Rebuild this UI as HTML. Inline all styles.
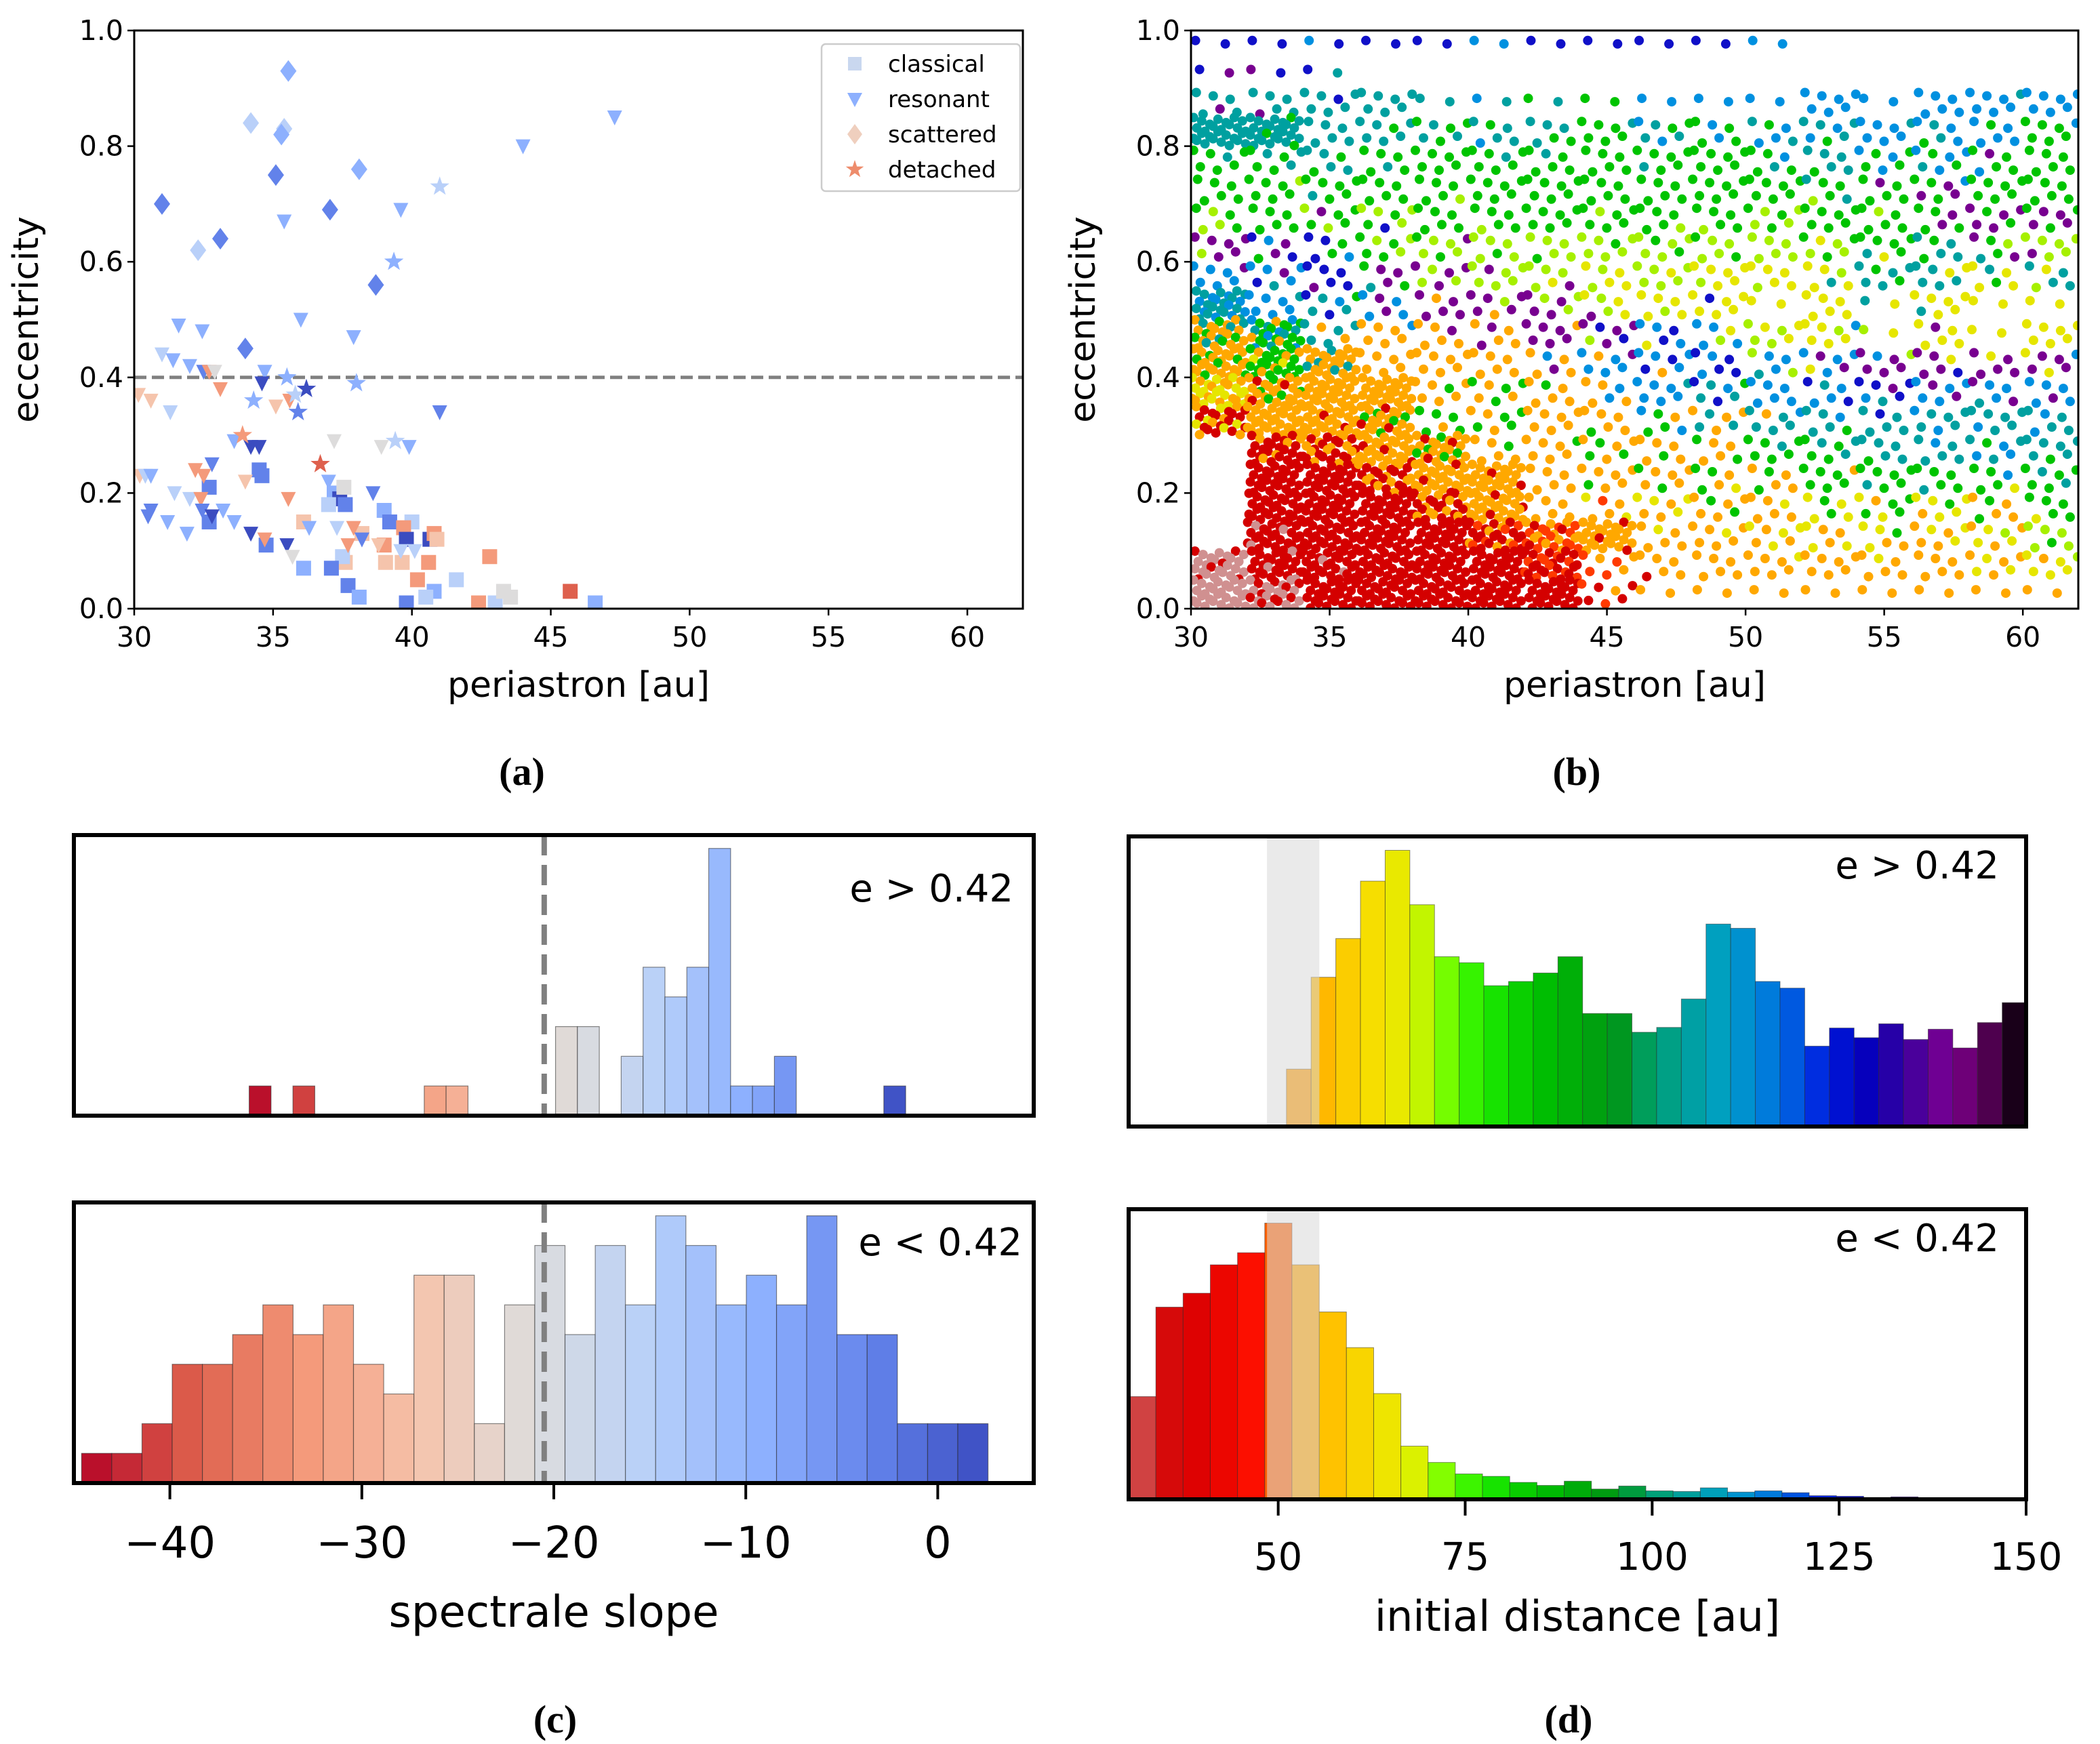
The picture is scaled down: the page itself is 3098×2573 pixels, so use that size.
<!DOCTYPE html>
<html><head><meta charset="utf-8"><style>
html,body{margin:0;padding:0;background:#fff;}
svg{display:block;font-family:"DejaVu Sans","Liberation Sans",sans-serif;}
</style></head>
<body>
<svg id="fig" xmlns="http://www.w3.org/2000/svg" width="3098" height="2573" viewBox="0 0 3098 2573">
<defs>
<clipPath id="clipA"><rect x="198" y="45" width="1311" height="853"/></clipPath>
<clipPath id="clipB"><rect x="1757" y="45" width="1309" height="853"/></clipPath>
</defs>
<rect x="0" y="0" width="3098" height="2573" fill="#fff"/>
<g id="gA"></g>
<g id="gB"></g>
<g id="gC"></g>
<g id="gD"></g>
<text x="770" y="1158" text-anchor="middle" font-family="Liberation Serif,serif" font-weight="bold" font-size="58">(a)</text>
<text x="2326" y="1158" text-anchor="middle" font-family="Liberation Serif,serif" font-weight="bold" font-size="58">(b)</text>
<text x="819" y="2556" text-anchor="middle" font-family="Liberation Serif,serif" font-weight="bold" font-size="58">(c)</text>
<text x="2314" y="2556" text-anchor="middle" font-family="Liberation Serif,serif" font-weight="bold" font-size="58">(d)</text>
</svg>
<script>
// ---------- DATA ----------
const classicalPts=[[32.7,0.21,'b'],[34.5,0.24,'b'],[34.6,0.23,'b'],[37.2,0.20,'l'],[37.4,0.19,'d'],[37.6,0.18,'b'],[37.0,0.18,'p'],[37.55,0.21,'g'],[32.7,0.15,'b'],[36.1,0.15,'s'],[39.0,0.17,'l'],[39.2,0.15,'b'],[40.0,0.15,'p'],[39.7,0.14,'m'],[39.8,0.12,'d'],[40.65,0.12,'d'],[40.8,0.13,'m'],[40.9,0.12,'s'],[38.2,0.13,'s'],[39.0,0.11,'m'],[34.75,0.11,'b'],[39.05,0.08,'s'],[39.65,0.08,'s'],[40.6,0.08,'m'],[37.6,0.08,'s'],[37.5,0.09,'p'],[36.1,0.07,'l'],[37.1,0.07,'b'],[42.8,0.09,'m'],[40.2,0.05,'m'],[41.6,0.05,'p'],[37.7,0.04,'b'],[38.1,0.02,'l'],[40.8,0.03,'l'],[40.5,0.02,'p'],[39.8,0.01,'b'],[42.4,0.01,'m'],[43.0,0.01,'p'],[43.3,0.03,'g'],[43.55,0.02,'g'],[45.7,0.03,'r'],[46.6,0.01,'l']];
const resonantPts=[[47.3,0.85,'l'],[44.0,0.80,'l'],[39.6,0.69,'l'],[35.4,0.67,'l'],[36.0,0.50,'l'],[37.9,0.47,'l'],[31.6,0.49,'l'],[32.45,0.48,'l'],[31.0,0.44,'p'],[31.4,0.43,'l'],[32.0,0.42,'l'],[32.5,0.41,'b'],[32.7,0.41,'m'],[32.9,0.41,'g'],[34.7,0.41,'l'],[34.6,0.39,'d'],[33.1,0.38,'m'],[41.0,0.34,'b'],[30.15,0.37,'s'],[30.6,0.36,'s'],[31.3,0.34,'p'],[35.1,0.35,'s'],[35.6,0.36,'m'],[37.2,0.29,'g'],[38.9,0.28,'g'],[39.9,0.28,'l'],[33.6,0.29,'l'],[34.2,0.28,'d'],[34.5,0.28,'d'],[32.8,0.25,'b'],[32.2,0.24,'m'],[32.5,0.23,'m'],[30.2,0.23,'s'],[30.4,0.23,'p'],[30.6,0.23,'l'],[34.0,0.22,'s'],[37.0,0.22,'l'],[38.6,0.20,'b'],[31.45,0.20,'p'],[32.0,0.19,'p'],[32.4,0.19,'m'],[35.55,0.19,'m'],[30.6,0.17,'b'],[32.45,0.17,'b'],[33.2,0.17,'l'],[30.5,0.16,'b'],[32.8,0.16,'d'],[31.2,0.15,'l'],[33.6,0.15,'l'],[36.3,0.14,'l'],[37.3,0.14,'p'],[37.9,0.14,'m'],[31.9,0.13,'l'],[34.2,0.13,'d'],[38.2,0.12,'b'],[34.7,0.12,'m'],[35.5,0.11,'d'],[37.7,0.11,'m'],[38.8,0.11,'s'],[39.6,0.10,'p'],[40.1,0.10,'p'],[35.7,0.09,'g']];
const scatteredPts=[[35.55,0.93,'l'],[34.2,0.84,'p'],[35.4,0.83,'p'],[35.3,0.82,'l'],[35.1,0.75,'b'],[38.1,0.76,'l'],[31.0,0.70,'b'],[37.05,0.69,'b'],[32.3,0.62,'p'],[33.1,0.64,'b'],[38.7,0.56,'b'],[34.0,0.45,'b']];
const detachedPts=[[41.0,0.73,'p'],[39.35,0.60,'l'],[35.5,0.40,'l'],[34.3,0.36,'l'],[35.8,0.37,'p'],[36.2,0.38,'d'],[35.9,0.34,'b'],[38.0,0.39,'l'],[39.4,0.29,'p'],[33.9,0.30,'m'],[36.7,0.25,'r']];
const xTicksAB=[30,35,40,45,50,55,60];
const yTicksAB=[0.0,0.2,0.4,0.6,0.8,1.0];
const threshold=0.4;
const bColors=["VVBVVBVVVVB.....","PPV.............","TTTTTBTGBBBBBBBB","TTTTGTTGTGBTBTBG","GGTGGGGGGGGTGBGG","GGGGGGGGGGGGGPGG","LGGLGGGGGGLGGGPP","PPVGLLLLLLLLGTGL","BBVPPLLYLYYYTTYT","TBTBPPPLYYYYYYYY","OGTOOOPPVBLYLYYY","OGOOOOOBBVBBPPPP","YOOOOGOOBTBBVBBB","ROOOGGOOGOTTTTTT",".RROOOOGOOGGTTBT",".RRROOOOOGOGGGGG",".RRRROOOYOOYGYOG",".RRRRRFOOOYOYOYL","SRRRRRRFOOOOOOOY","SSRRRRRROOOOOOOO"];
const bDensity=["1111111111100000","1110000000000000","2222111111121222","3322222222222222","2222222222222222","2222222222222222","2222222222222222","2222222222222222","2222222222222222","3222222222121211","3322222222221212","3332222222222222","3333222222222222","3333222222222222","0333322222222222","0333332222222222","0333332222222222","1333333322222222","3333333222222222","3333333211111111"];
const cTopStart=-35.87, cTopWidth=1.14;
const cTopCounts=[1,0,1,0,0,0,0,0,1,1,0,0,0,0,3,3,0,2,5,4,5,9,1,1,2,0,0,0,0,1];
const cBotStart=-44.6, cBotWidth=1.574;
const cBotCounts=[1,1,2,4,4,5,6,5,6,4,3,7,7,2,6,8,5,8,6,9,8,6,7,6,9,5,5,2,2,2];
const cTicks=[-40,-30,-20,-10,0];
const cSplit=-20.5;
const dTopStart=51.1, dTopWidth=3.3;
const dTopCounts=[95,247,311,406,457,367,281,271,233,240,254,281,187,187,156,164,211,335,328,240,229,133,163,147,170,144,161,130,172,205];
const dBotStart=30, dBotWidth=3.64;
const dBotCounts=[170,318,341,388,408,457,388,310,251,175,88,61,42,38,28,23,30,17,22,14,13,19,12,14,11,6,5,3,4,2,1,1,1];
const dTicks=[50,75,100,125,150];
const dBand=[48.5,55.5];

// ---------- HELPERS ----------
const NS="http://www.w3.org/2000/svg";
function mk(parent,tag,attrs){const e=document.createElementNS(NS,tag);for(const k in attrs)e.setAttribute(k,attrs[k]);parent.appendChild(e);return e;}
function txt(parent,x,y,s,size,anchor,extra){const t=mk(parent,'text',Object.assign({x:x,y:y,'font-size':size,'text-anchor':anchor||'middle'},extra||{}));t.textContent=s;return t;}
const keyCol={d:'#3b4cc0',b:'#6282ea',l:'#8db0fe',p:'#b9d0f9',g:'#dddcdc',s:'#f5c4ac',m:'#f49a7b',r:'#de604d',k:'#b40426'};
const cw=[[59,76,192],[98,130,234],[141,176,254],[184,208,249],[221,221,221],[245,196,173],[244,154,123],[222,96,77],[180,4,38]];
function coolwarm(t){t=Math.max(0,Math.min(1,t));const f=t*8,i=Math.min(7,Math.floor(f)),u=f-i;const a=cw[i],b=cw[i+1];return 'rgb('+a.map((v,j)=>Math.round(v+(b[j]-v)*u)).join(',')+')';}
const dStops=[[30,[208,144,144]],[33,[208,16,16]],[40,[224,0,0]],[47,[255,16,0]],[52,[255,150,0]],[57,[255,192,0]],[63,[245,224,0]],[68,[224,240,0]],[72,[128,255,0]],[77,[32,240,0]],[85,[0,192,0]],[95,[0,150,20]],[100,[0,160,110]],[105,[0,160,160]],[110,[0,160,200]],[117,[0,112,224]],[123,[0,32,224]],[128,[0,0,192]],[133,[48,0,160]],[140,[128,0,144]],[145,[80,0,80]],[150,[0,0,0]]];
function dmap(v){for(let i=0;i<dStops.length-1;i++){const a=dStops[i],b=dStops[i+1];if(v<=b[0]){const u=Math.max(0,(v-a[0])/(b[0]-a[0]));return 'rgb('+a[1].map((c,j)=>Math.round(c+(b[1][j]-c)*u)).join(',')+')';}}return '#000';}
const bPal={R:'#d40000',F:'#ff3a00',O:'#ffa800',Y:'#e6e600',L:'#a6f000',G:'#00c400',T:'#00a0a0',B:'#0090e0',V:'#1010c8',P:'#780090',K:'#200020',S:'#d09090'};

function axesAB(g,L,R,T,B,letter){
  const sx=v=>L+(v-30)/32*(R-L), sy=v=>B-v*(B-T);
  xTicksAB.forEach(v=>{const tk=mk(g,'line',{x1:sx(v),x2:sx(v),y1:B,y2:B+10,stroke:'#000','stroke-width':2.5});
    
    const t=txt(g,sx(v),B+56,String(v),41);});
  yTicksAB.forEach(v=>{mk(g,'line',{x1:L-10,x2:L,y1:sy(v),y2:sy(v),stroke:'#000','stroke-width':2.5});
    const t=txt(g,L-16,sy(v)+14,v.toFixed(1),41,'end');});
  const xl=txt(g,(L+R)/2,B+130,'periastron [au]',52);
  const yl=txt(g,0,0,'eccentricity',52,'middle',{transform:'translate('+(L-142)+','+((T+B)/2)+') rotate(-90)'});
  return {sx,sy};
}
// Panel A
(function(){
  const g=document.getElementById('gA');const L=198,R=1509,T=45,B=898;
  const {sx,sy}=axesAB(g,L,R,T,B,'a');
  const dl=mk(g,'line',{x1:L,x2:R,y1:sy(threshold),y2:sy(threshold),stroke:'#808080','stroke-width':5,'stroke-dasharray':'18,8'});
  
  const pg=mk(g,'g',{'clip-path':'url(#clipA)'});
  function sq(x,y,c){return mk(pg,'rect',{x:x-11,y:y-11,width:22,height:22,fill:c});}
  function tri(x,y,c){return mk(pg,'polygon',{points:(x-11)+','+(y-10)+' '+(x+11)+','+(y-10)+' '+x+','+(y+12),fill:c});}
  function dia(x,y,c){return mk(pg,'polygon',{points:x+','+(y-16)+' '+(x+12)+','+y+' '+x+','+(y+16)+' '+(x-12)+','+y,fill:c});}
  function star(x,y,c){let p=[];for(let i=0;i<10;i++){const a=-Math.PI/2+i*Math.PI/5,r=i%2?6:15;p.push((x+r*Math.cos(a)).toFixed(1)+','+(y+r*Math.sin(a)).toFixed(1));}return mk(pg,'polygon',{points:p.join(' '),fill:c});}
  classicalPts.forEach(p=>{const e=sq(sx(p[0]),sy(p[1]),keyCol[p[2]]);});
  resonantPts.forEach(p=>{const e=tri(sx(p[0]),sy(p[1]),keyCol[p[2]]);});
  scatteredPts.forEach(p=>{const e=dia(sx(p[0]),sy(p[1]),keyCol[p[2]]);});
  detachedPts.forEach(p=>{const e=star(sx(p[0]),sy(p[1]),keyCol[p[2]]);});
  mk(g,'rect',{x:L,y:T,width:R-L,height:B-T,fill:'none',stroke:'#000','stroke-width':3});
  const lg=mk(g,'g',{});
  mk(lg,'rect',{x:1212,y:65,width:293,height:217,rx:6,fill:'#fff','fill-opacity':0.85,stroke:'#ccc','stroke-width':2.5});
  const items=[['classical','#c9d7ef','s'],['resonant','#8db0fe','t'],['scattered','#efcfbe','d'],['detached','#ee8c6c','st']];
  items.forEach((it,i)=>{const y=94+i*52;let m;
    if(it[2]==='s')m=mk(lg,'rect',{x:1251,y:y-10,width:20,height:20,fill:it[1]});
    else if(it[2]==='t')m=mk(lg,'polygon',{points:'1250,'+(y-9)+' 1272,'+(y-9)+' 1261,'+(y+12),fill:it[1]});
    else if(it[2]==='d')m=mk(lg,'polygon',{points:'1261,'+(y-15)+' 1272,'+y+' 1261,'+(y+15)+' 1250,'+y,fill:it[1]});
    else {let p=[];for(let k=0;k<10;k++){const a=-Math.PI/2+k*Math.PI/5,r=k%2?5.5:14;p.push((1261+r*Math.cos(a)).toFixed(1)+','+(y+r*Math.sin(a)).toFixed(1));}m=mk(lg,'polygon',{points:p.join(' '),fill:it[1]});}
    
    const t=txt(lg,1310,y+12,it[0],34,'start');});
})();
// Panel B
(function(){
  const g=document.getElementById('gB');const L=1757,R=3066,T=45,B=898;
  const {sx,sy}=axesAB(g,L,R,T,B,'b');
  const pg=mk(g,'g',{'clip-path':'url(#clipB)'});
  const sp=[0,44,25,12];
  function cellCol(ri,ci){if(ri<0||ri>=bColors.length||ci<0||ci>15)return null;const ch=bColors[ri][ci];return (ch==='.'||bDensity[ri][ci]==='0')?null:bPal[ch];}
  bColors.forEach((row,ri)=>{
    const e1=1-ri*0.05,e0=e1-0.05;
    for(let ci=0;ci<16;ci++){
      const ch=row[ci],d=+bDensity[ri][ci];if(ch==='.'||d===0)continue;
      const x0=sx(30+ci*2),x1=sx(32+ci*2),y0=sy(e1),y1=sy(e0);const s=sp[d];
      let k=0,n=0;
      for(let y=y0+s*0.45;y<y1;y+=s*0.87,k++){
        for(let x=x0+(k%2?s*0.55:s*0.15)+((ri*3+ci)%4)*2;x<x1;x+=s,n++){
          let col=bPal[ch];
          const m=(n+ri+ci)%5;
          if(m===1){const c2=cellCol(ri-1,ci);if(c2)col=c2;}
          else if(m===3){const c2=cellCol(ri,ci+1);if(c2)col=c2;}
          else if(m===4&&(n%2)){const c2=cellCol(ri+1,ci-1);if(c2)col=c2;}
          const jy=((n*7+k*3)%5-2)*2.5;
          const c=mk(pg,'circle',{cx:x.toFixed(1),cy:(y+jy).toFixed(1),r:7,fill:col});
          
          
        }
      }
    }
  });
  mk(g,'rect',{x:L,y:T,width:R-L,height:B-T,fill:'none',stroke:'#000','stroke-width':3});
})();
// Panel C
(function(){
  const g=document.getElementById('gC');const L=109,R=1525;
  const sx=v=>L+(v+45)/50*(R-L);
  function hist(T,B,start,w,counts,label,lx){
    const sy=v=>B-v/9.45*(B-T);
    const n=counts.length;
    counts.forEach((c,i)=>{if(!c)return;const a=start+i*w,b=a+w;const col=coolwarm(1-(i+0.5)/n);
      const r=mk(g,'rect',{x:sx(a),y:sy(c),width:sx(b)-sx(a),height:B-sy(c),fill:col,stroke:'rgba(40,40,40,0.55)','stroke-width':1.2});
      });
    const dl=mk(g,'line',{x1:sx(cSplit),x2:sx(cSplit),y1:T,y2:B,stroke:'#808080','stroke-width':8,'stroke-dasharray':'30,14'});
    
    mk(g,'rect',{x:L,y:T,width:R-L,height:B-T,fill:'none',stroke:'#000','stroke-width':6});
    const t=txt(g,lx,T+(label[2]==='>'?98:78),label,56,'end');
  }
  hist(1232,1646,cTopStart,cTopWidth,cTopCounts,'e > 0.42',1495);
  hist(1774,2188,cBotStart,cBotWidth,cBotCounts,'e < 0.42',1508);
  cTicks.forEach(v=>{const tk=mk(g,'line',{x1:sx(v),x2:sx(v),y1:2188,y2:2212,stroke:'#000','stroke-width':4});
    
    const t=txt(g,sx(v),2298,v<0?'\u2212'+(-v):String(v),64);});
  const xl=txt(g,(L+R)/2,2400,'spectrale slope',64);
})();
// Panel D
(function(){
  const g=document.getElementById('gD');const L=1665,R=2989;
  const sx=v=>L+(v-30)/120*(R-L);
  function hist(T,B,start,w,counts,label){
    const sy=v=>B-v/480*(B-T);
    counts.forEach((c,i)=>{if(!c)return;const a=start+i*w,b=Math.min(150,a+w);
      const r=mk(g,'rect',{x:sx(a),y:sy(c),width:sx(b)-sx(a),height:B-sy(c),fill:dmap(a+w/2),stroke:'rgba(40,40,40,0.5)','stroke-width':1});
      });
    const band=mk(g,'rect',{x:sx(dBand[0]),y:T,width:sx(dBand[1])-sx(dBand[0]),height:B-T,fill:'#d8d8d8','fill-opacity':0.55});
    
    mk(g,'rect',{x:L,y:T,width:R-L,height:B-T,fill:'none',stroke:'#000','stroke-width':6});
    const t=txt(g,R-40,T+62,label,56,'end');
  }
  hist(1234,1662,dTopStart,dTopWidth,dTopCounts,'e > 0.42');
  hist(1784,2212,dBotStart,dBotWidth,dBotCounts,'e < 0.42');
  dTicks.forEach(v=>{const tk=mk(g,'line',{x1:sx(v),x2:sx(v),y1:2212,y2:2236,stroke:'#000','stroke-width':4});
    
    const t=txt(g,sx(v),2316,String(v),56);});
  const xl=txt(g,(L+R)/2,2406,'initial distance [au]',62);
})();
</script>
</body></html>
